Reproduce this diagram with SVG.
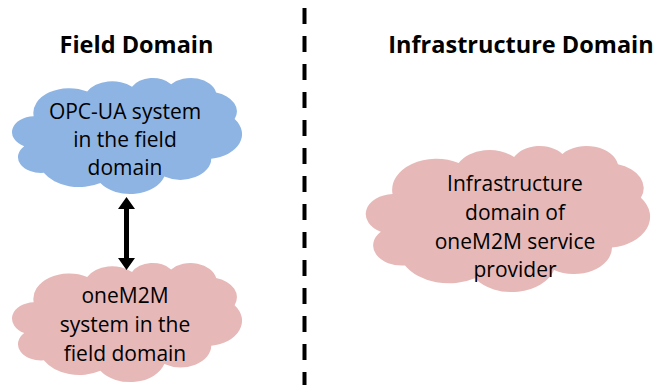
<svg xmlns="http://www.w3.org/2000/svg" xmlns:xlink="http://www.w3.org/1999/xlink" width="659" height="385" viewBox="0 0 659 385">
<style>
.title{font-family:"Open Sans","Liberation Sans",sans-serif;font-weight:bold;font-size:23.5px;fill:#000;text-anchor:middle}
.lbl{font-family:"Open Sans","Liberation Sans",sans-serif;font-size:21px;fill:#000;text-anchor:middle}
.blue{fill:#8EB4E3}
.pink{fill:#E6B9B8}
</style>
<defs>
<path id="cloud" d="M39 143.7A67.53 91.9 0 0 1 140.05 52.02A53.33 72.67 0 0 1 224.56 34.32A43.65 59.45 0 0 1 298.34 24.82A48.57 65.95 0 0 1 383.19 55.78A53.33 72.73 0 0 1 418.19 154.62A67.75 92.2 0 0 1 374.04 302.03A57.85 78.67 0 0 1 285.55 368.13A67.52 92.15 0 0 1 164.81 392.67A77.2 105.43 0 0 1 58.06 354.73A43.6 59.18 0 0 1 21.14 255.52A43.45 59.45 0 0 1 39 143.7Z"/>
</defs>
<rect width="659" height="385" fill="#fff"/>
<g id="divider">
<line x1="304.5" y1="8" x2="304.5" y2="385" stroke="#000" stroke-width="4" stroke-dasharray="16 12"/>
</g>
<g id="titles">
<text class="title" x="136.5" y="53">Field Domain</text>
<text class="title" x="521" y="53">Infrastructure Domain</text>
</g>
<g id="opcua">
<use xlink:href="#cloud" class="blue" transform="translate(13,77.6) scale(0.53,0.2685)"/>
<text class="lbl" x="125" y="119">OPC-UA system</text>
<text class="lbl" x="125" y="147">in the field</text>
<text class="lbl" x="125" y="175">domain</text>
</g>
<g id="onem2m-field">
<use xlink:href="#cloud" class="pink" transform="translate(13,262.6) scale(0.53,0.2755)"/>
<text class="lbl" x="125" y="303">oneM2M</text>
<text class="lbl" x="125" y="332">system in the</text>
<text class="lbl" x="125" y="361">field domain</text>
</g>
<g id="infra">
<use xlink:href="#cloud" class="pink" transform="translate(367,145.5) scale(0.655,0.338)"/>
<text class="lbl" x="515" y="191">Infrastructure</text>
<text class="lbl" x="515" y="220">domain of</text>
<text class="lbl" x="515" y="249">oneM2M service</text>
<text class="lbl" x="515" y="277">provider</text>
</g>
<g id="connectors">
<polygon points="126.5,197 135,209 129,209 129,258 135,258 126.5,270 118,258 124,258 124,209 118,209" fill="#000"/>
</g>
</svg>
